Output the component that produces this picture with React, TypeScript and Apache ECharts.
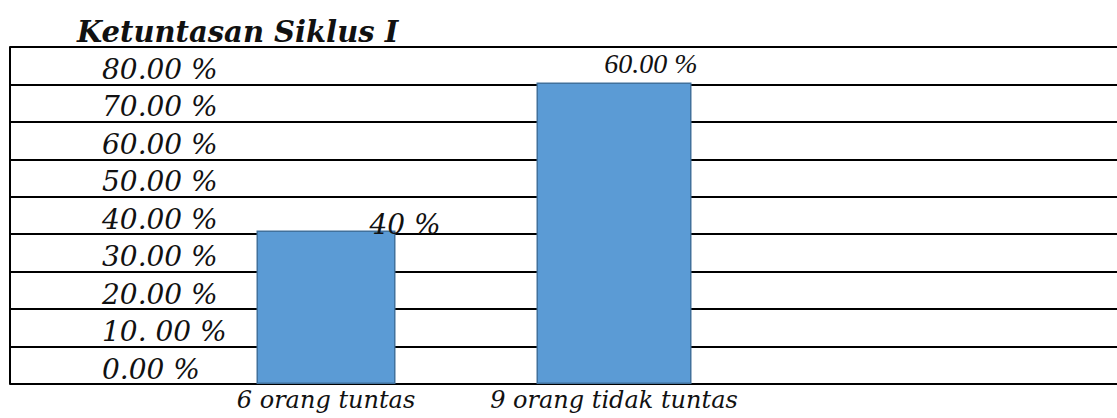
import React, { useEffect, useRef } from "react";
import * as echarts from "echarts";

const categories = ["6 orang tuntas", "9 orang tidak tuntas"];
const barValues = [41, 80.5];
const barLabels = ["40 %", "60.00 %"];
const tickLabels = ["0.00 %", "10. 00 %", "20.00 %", "30.00 %", "40.00 %", "50.00 %", "60.00 %", "70.00 %", "80.00 %"];

const SERIF = "'DejaVu Serif', Georgia, serif";

export default function App() {
  const ref = useRef<HTMLDivElement>(null);
  useEffect(() => {
    if (!ref.current) return;
    const chart = echarts.init(ref.current, null, { renderer: "svg" });
    const top = 47;
    const bottom = 34;
    chart.setOption({
      animation: false,
      backgroundColor: "#ffffff",
      title: {
        text: "Ketuntasan Siklus I",
        left: 72,
        top: 12,
        textStyle: { fontFamily: SERIF, fontStyle: "italic", fontWeight: "bold", fontSize: 29, color: "#111" },
      },
      grid: [
        { left: 10, right: 0, top, bottom },
        { left: 182, width: 576, top, bottom },
      ],
      xAxis: [
        { type: "value", gridIndex: 0, min: 0, max: 1, show: false },
        {
          type: "category",
          gridIndex: 1,
          data: categories,
          axisLine: { show: false },
          axisTick: { show: false },
          axisLabel: { interval: 0, margin: 4, fontFamily: SERIF, fontStyle: "italic", fontSize: 24, color: "#111" },
        },
        {
          type: "category",
          gridIndex: 1,
          data: categories,
          show: false,
        },
      ],
      yAxis: [
        {
          type: "value",
          gridIndex: 0,
          min: 0,
          max: 90,
          interval: 10,
          axisLine: { show: true, lineStyle: { color: "#000", width: 2 } },
          axisTick: { show: false },
          splitLine: { show: true, lineStyle: { color: "#000", width: 2 } },
          axisLabel: {
            inside: true,
            margin: 92,
            align: "left",
            verticalAlign: "bottom",
            padding: [0, 0, 1, 0],
            fontFamily: SERIF,
            fontStyle: "italic",
            fontSize: 28,
            color: "#111",
            formatter: (v: number) => {
              const i = Math.round(v / 10);
              return tickLabels[i] ?? "";
            },
          },
        },
        { type: "value", gridIndex: 1, min: 0, max: 90, interval: 10, show: false, splitLine: { show: false } },
      ],
      series: [
        {
          type: "bar",
          xAxisIndex: 1,
          yAxisIndex: 1,
          data: [barValues[0], "-"],
          barWidth: 139,
          itemStyle: { color: "#5B9BD5", borderColor: "#41719C", borderWidth: 1.5 },
          label: {
            show: true,
            position: "top",
            distance: 0,
            offset: [79, 8],
            formatter: () => barLabels[0],
            fontFamily: SERIF,
            fontStyle: "italic",
            fontSize: 28,
            color: "#111",
          },
        },
        {
          type: "bar",
          xAxisIndex: 2,
          yAxisIndex: 1,
          data: ["-", barValues[1]],
          barWidth: 155,
          itemStyle: { color: "#5B9BD5", borderColor: "#41719C", borderWidth: 1.5 },
          label: {
            show: true,
            position: "top",
            distance: 5,
            offset: [37, 0],
            formatter: () => barLabels[1],
            fontFamily: "'Liberation Serif', 'Times New Roman', serif",
            fontStyle: "italic",
            fontSize: 28,
            color: "#111",
          },
        },
      ],
    });
    return () => chart.dispose();
  }, []);
  return <div ref={ref} style={{ position: "fixed", left: 0, top: 0, width: 1117, height: 418 }} />;
}
